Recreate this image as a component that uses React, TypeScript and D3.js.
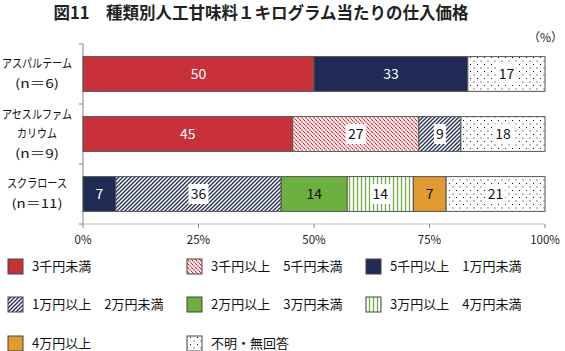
import * as d3 from 'd3';

// 区分（凡例の並び順）
const seriesNames = [
    '3千円未満',
    '3千円以上　5千円未満',
    '5千円以上　1万円未満',
    '1万円以上　2万円未満',
    '2万円以上　3万円未満',
    '3万円以上　4万円未満',
    '4万円以上',
    '不明・無回答',
];

const categories = ['aspartame', 'acesulfame', 'sucralose'];
const categoryLines = [
    ['アスパルテーム', '(n＝6)'],
    ['アセスルファム', 'カリウム', '(n＝9)'],
    ['スクラロース', '(n＝11)'],
];

// 構成比（%）
const aspartame = [50, 0, 33.3, 0, 0, 0, 0, 16.7];
const acesulfame = [45.4, 27.3, 0, 9.1, 0, 0, 0, 18.2];
const sucralose = [0, 0, 7.1, 35.8, 14.3, 14.3, 7.1, 21.4];

const xTicks = [0, 25, 50, 75, 100];

const fills = [
    '#c8303a',
    'url(#pRed)',
    '#1f2a55',
    'url(#pNavy)',
    '#6db03f',
    'url(#pGreen)',
    '#e09a30',
    'url(#pDots)',
];
const patterned = [false, true, false, true, false, true, false, true];
const labelColor = ['#fff', '#111', '#fff', '#111', '#111', '#111', '#111', '#111'];

const W = 565;
const H = 351;
const margin = { top: 44, right: 20, bottom: 127, left: 83 };
const font = '"Noto Sans CJK JP", "Noto Sans", sans-serif';

const App = () => {
    const rows = [aspartame, acesulfame, sucralose];
    const table = categories.map((c, i) => {
        const o: any = { cat: c };
        seriesNames.forEach((s, j) => (o[s] = rows[i][j]));
        return o;
    });
    const stacked = d3.stack<any>().keys(seriesNames)(table);

    const x = d3.scaleLinear().domain([0, 100]).range([margin.left, W - margin.right]);
    const y = d3
        .scaleBand()
        .domain(categories)
        .range([margin.top, H - margin.bottom])
        .paddingInner(0.42)
        .paddingOuter(0.21);
    const bandStep = y.step();

    const legendCols = [8, 187, 366];
    const legendRows = [259, 297, 336];

    // 各行の文字幅（参照図から）
    const lineWidth = (l: string) => {
        if (l.startsWith('(')) return l.length > 5 ? 51 : 44;
        return Math.min(70, l.length * 10);
    };

    return (
        <svg
            width={W}
            height={H}
            style={{ position: 'absolute', left: 0, top: 0, fontFamily: font }}
        >
            <defs>
                <pattern id="pRed" width="4" height="4" patternUnits="userSpaceOnUse">
                    <rect width="4" height="4" fill="#fff" />
                    <path
                        d="M0,0 L4,4 M-1,3 L1,5 M3,-1 L5,1"
                        stroke="#d0202c"
                        strokeWidth="1.3"
                        strokeDasharray="1.4,0.8"
                    />
                </pattern>
                <pattern id="pNavy" width="4" height="4" patternUnits="userSpaceOnUse">
                    <rect width="4" height="4" fill="#fff" />
                    <path d="M0,4 L4,0 M-1,1 L1,-1 M3,5 L5,3" stroke="#1f2a55" strokeWidth="1.3" />
                </pattern>
                <pattern id="pGreen" width="4" height="4" patternUnits="userSpaceOnUse">
                    <rect width="4" height="4" fill="#fff" />
                    <line x1="1.5" y1="0" x2="1.5" y2="4" stroke="#6db03f" strokeWidth="1.3" />
                </pattern>
                <pattern id="pDots" width="7" height="7" patternUnits="userSpaceOnUse">
                    <rect width="7" height="7" fill="#fff" />
                    <rect x="1" y="1" width="1" height="1" fill="#111" />
                    <rect x="4.5" y="4.5" width="1" height="1" fill="#111" />
                </pattern>
            </defs>

            {/* タイトル */}
            <text x={261} y={19} textAnchor="middle" fontSize={16.5} fontWeight="bold" fill="#222">
                図11　種類別人工甘味料１キログラム当たりの仕入価格
            </text>
            <text x={563} y={42} textAnchor="end" fontSize={12} fill="#222">
                （%）
            </text>

            {/* 軸 */}
            <line x1={margin.left} x2={margin.left} y1={margin.top} y2={H - margin.bottom} stroke="#888" />
            <line x1={margin.left} x2={W - margin.right} y1={H - margin.bottom} y2={H - margin.bottom} stroke="#bbb" />
            {d3.range(4).map(i => (
                <line
                    key={i}
                    x1={margin.left - 4}
                    x2={margin.left}
                    y1={margin.top + i * bandStep}
                    y2={margin.top + i * bandStep}
                    stroke="#888"
                />
            ))}
            {xTicks.map(t => (
                <g key={t}>
                    <line x1={x(t)} x2={x(t)} y1={H - margin.bottom} y2={H - margin.bottom + 4} stroke="#888" />
                    <text x={x(t)} y={H - margin.bottom + 20} textAnchor="middle" fontSize={11.5} fill="#222">
                        {t}%
                    </text>
                </g>
            ))}

            {/* カテゴリ名 */}
            {categories.map((c, i) => {
                const cy = (y(c) ?? 0) + y.bandwidth() / 2;
                const lines = categoryLines[i];
                const lh = 19.5;
                const y0 = cy - ((lines.length - 1) * lh) / 2;
                return (
                    <g key={c}>
                        {lines.map((l, k) => (
                            <text
                                key={k}
                                x={37}
                                y={y0 + k * lh}
                                dy="0.35em"
                                textAnchor="middle"
                                fontSize={12}
                                textLength={lineWidth(l)}
                                lengthAdjust="spacingAndGlyphs"
                                fill="#111"
                            >
                                {l}
                            </text>
                        ))}
                    </g>
                );
            })}

            {/* 帯グラフ */}
            {stacked.map((layer, j) => (
                <g key={layer.key}>
                    {layer.map((d, i) => {
                        const v = d[1] - d[0];
                        if (v <= 0) return null;
                        const x0 = x(d[0]);
                        const w = x(d[1]) - x0;
                        const by = y(categories[i]) ?? 0;
                        const bh = y.bandwidth();
                        const label = String(Math.round(v));
                        const lw = label.length * 8 + 4;
                        return (
                            <g key={i}>
                                <rect x={x0} y={by} width={w} height={bh} fill={fills[j]} stroke="#555" strokeWidth={1} />
                                {patterned[j] && (
                                    <rect x={x0 + w / 2 - lw / 2} y={by + bh / 2 - 10} width={lw} height={20} fill="#fff" />
                                )}
                                <text
                                    x={x0 + w / 2}
                                    y={by + bh / 2}
                                    dy="0.36em"
                                    textAnchor="middle"
                                    fontSize={14}
                                    fill={labelColor[j]}
                                >
                                    {label}
                                </text>
                            </g>
                        );
                    })}
                </g>
            ))}

            {/* 凡例 */}
            {seriesNames.map((s, j) => {
                const lx = legendCols[j % 3];
                const ly = legendRows[Math.floor(j / 3)];
                return (
                    <g key={s}>
                        <rect x={lx} y={ly} width={15} height={15} fill={fills[j]} stroke="#444" strokeWidth={1} />
                        <text x={lx + 24} y={ly + 7.5} dy="0.35em" fontSize={13} fill="#111">
                            {s}
                        </text>
                    </g>
                );
            })}
        </svg>
    );
};

export default App;
